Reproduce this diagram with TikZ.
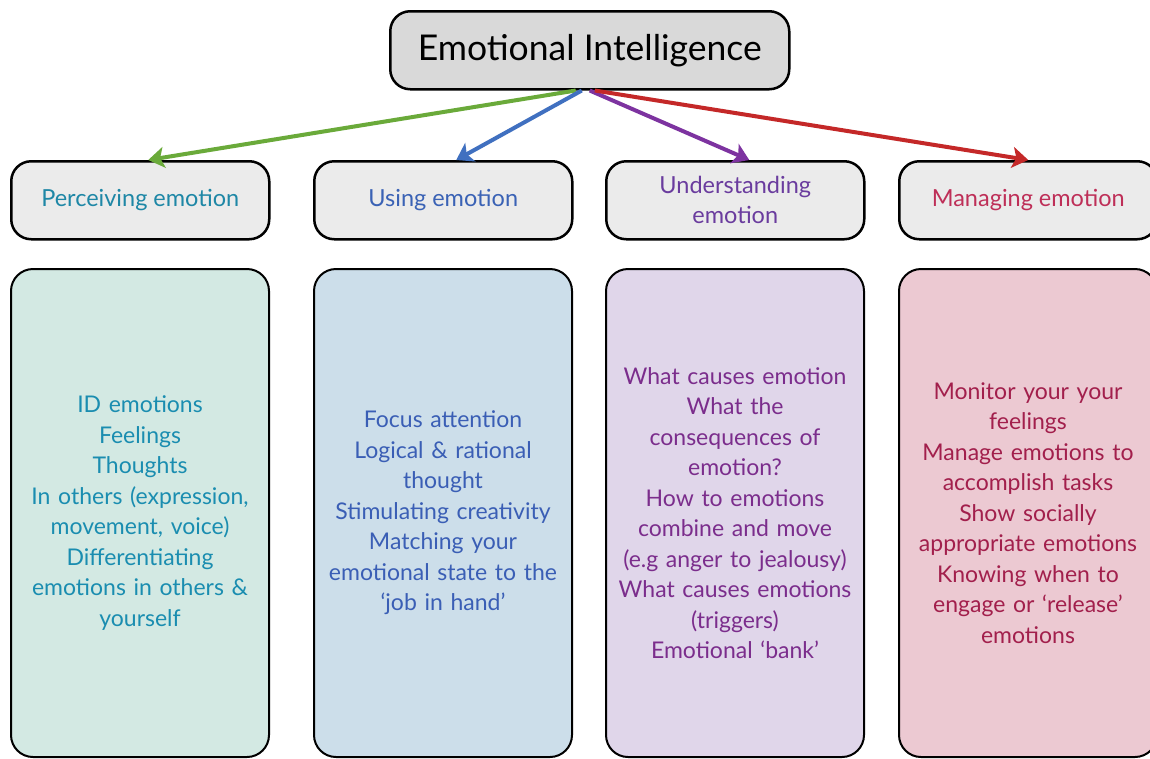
\documentclass[tikz,border=0pt]{standalone}
\usepackage{fontspec}
\setmainfont{Lato}
\usetikzlibrary{arrows.meta,calc}
\definecolor{titlefill}{HTML}{D9D9D9}
\definecolor{headfill}{HTML}{EBEBEB}
\definecolor{perctext}{HTML}{1E87A6}
\definecolor{usetext}{HTML}{3A62B5}
\definecolor{undtext}{HTML}{6A3C9E}
\definecolor{mantext}{HTML}{BE2F58}
\definecolor{percfill}{HTML}{D3E9E3}
\definecolor{usefill}{HTML}{CCDEEA}
\definecolor{undfill}{HTML}{E0D6EA}
\definecolor{manfill}{HTML}{ECC9D2}
\definecolor{percbody}{HTML}{1A8DB0}
\definecolor{usebody}{HTML}{3A5EB5}
\definecolor{undbody}{HTML}{7B2D8C}
\definecolor{manbody}{HTML}{A21F4C}
\definecolor{greenline}{HTML}{6AAA3A}
\definecolor{blueline}{HTML}{4070C0}
\definecolor{purpleline}{HTML}{7D33A0}
\definecolor{redline}{HTML}{C42828}
\tikzset{
  titlebox/.style={draw=black, line width=2.5pt, fill=titlefill, rounded corners=20pt,
    minimum width=399pt, minimum height=78pt, anchor=north west, font=\fontsize{35.5}{40}\selectfont},
  headbox/.style={draw=black, line width=2.5pt, fill=headfill, rounded corners=20pt,
    minimum width=258pt, minimum height=78pt, anchor=north west, align=center,
    font=\fontsize{23.5}{30}\selectfont},
  bodybox/.style={draw=black, line width=2pt, rounded corners=22pt,
    minimum width=258pt, minimum height=488pt, anchor=north west, align=center,
    inner sep=4pt, text width=250pt, font=\fontsize{23}{30.5}\selectfont},
  branch/.style={line width=4pt, -{Stealth[length=16pt,width=21pt,inset=4pt]}}
}
\begin{document}
\begin{tikzpicture}[x=1pt,y=-1pt]
\useasboundingbox (0,0) rectangle (1150,758);
\fill[white] (0,0) rectangle (1150,758);

% top concept
\node[titlebox] (ei) at (389,10) {Emotional Intelligence};

% branch headers
\node[headbox, text=perctext] (perc) at (10,160) {Perceiving emotion};
\node[headbox, text=usetext] (use) at (313,160) {Using emotion};
\node[headbox, text=undtext] (und) at (605,160) {Understanding\\emotion};
\node[headbox, text=mantext] (man) at (898,160) {Managing emotion};

% detail panels
\node[bodybox, fill=percfill, text=percbody] (percd) at (10,268)
  {ID emotions\\Feelings\\Thoughts\\In others (expression,\\movement, voice)\\Differentiating\\emotions in others \&\\yourself};
\node[bodybox, fill=usefill, text=usebody] (used) at (313,268)
  {Focus attention\\Logical \& rational\\thought\\Stimulating creativity\\Matching your\\emotional state to the\\‘job in hand’};
\node[bodybox, fill=undfill, text=undbody] (undd) at (605,268)
  {What causes emotion\\What the\\consequences of\\emotion?\\How to emotions\\combine and move\\(e.g anger to jealousy)\\What causes emotions\\(triggers)\\Emotional ‘bank’};
\node[bodybox, fill=manfill, text=manbody] (mand) at (898,268)
  {Monitor your your\\feelings\\Manage emotions to\\accomplish tasks\\Show socially\\appropriate emotions\\Knowing when to\\engage or ‘release’\\emotions};

% connectors from the top concept
\draw[branch, greenline] ($(ei.south)+(-14,0)$) -- ($(perc.north)+(8,0)$);
\draw[branch, blueline] ($(ei.south)+(-8,0)$) -- ($(use.north)+(13,0)$);
\draw[branch, purpleline] ($(ei.south)+(0,0)$) -- ($(und.north)+(14,0)$);
\draw[branch, redline] ($(ei.south)+(5,0)$) -- ($(man.north)+(0,0)$);
\end{tikzpicture}
\end{document}
